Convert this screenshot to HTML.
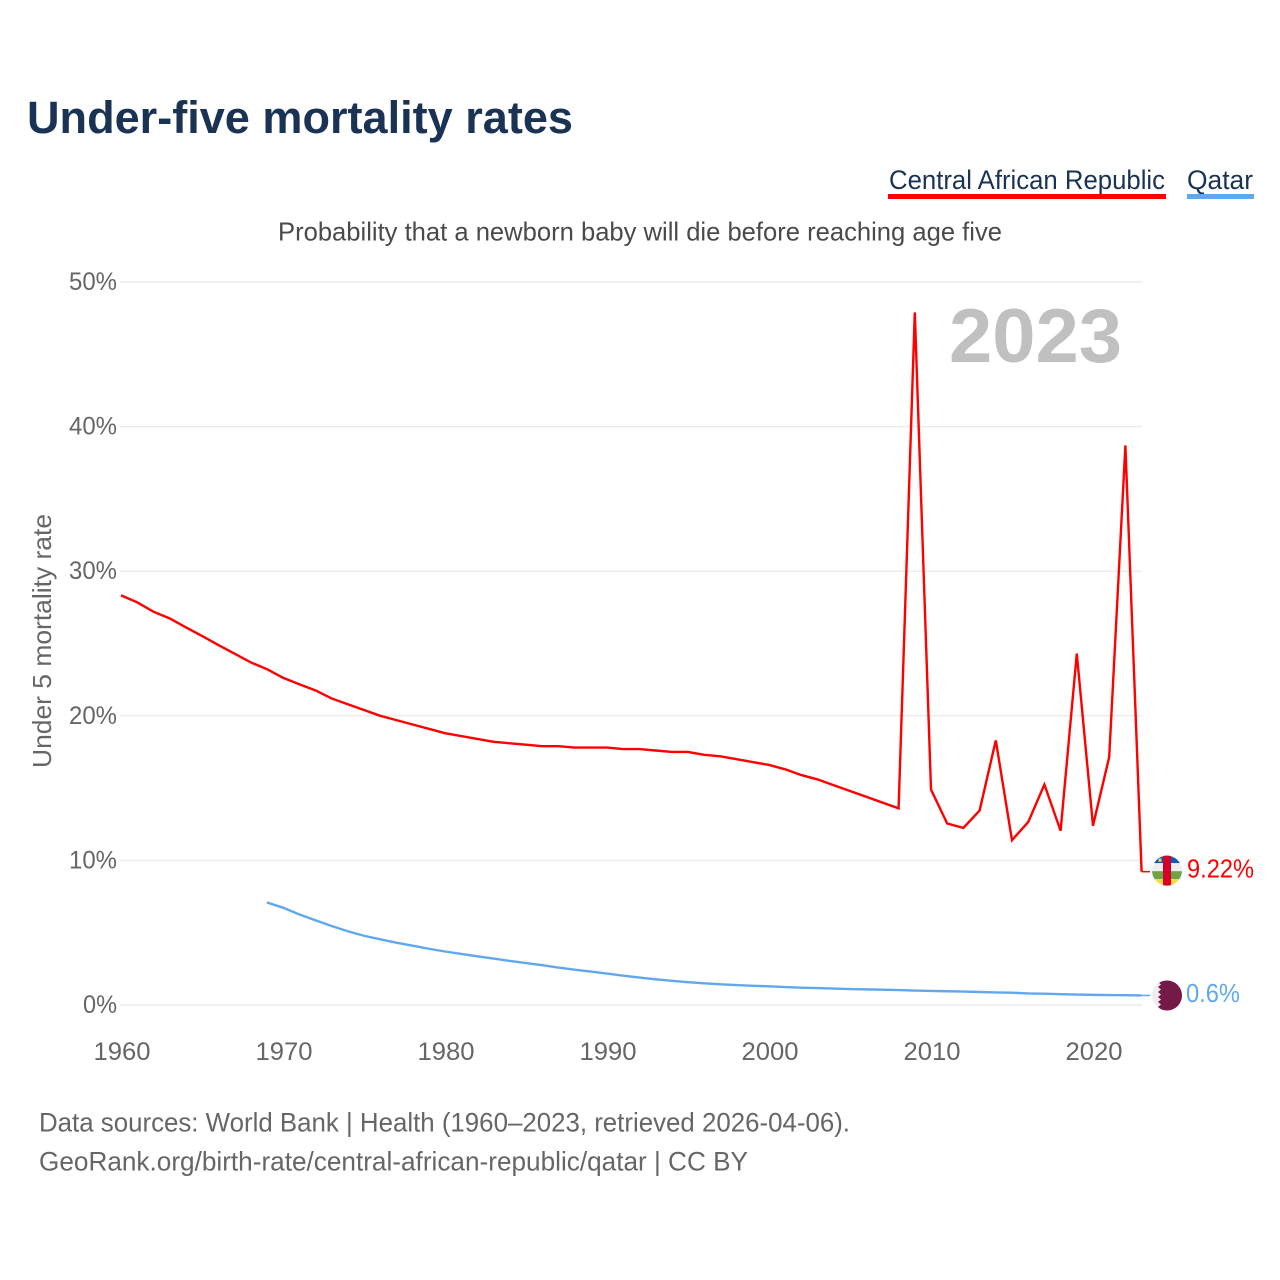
<!DOCTYPE html>
<html lang="en">
<head>
<meta charset="utf-8">
<title>Under-five mortality rates</title>
<style>
html,body{margin:0;padding:0;background:#fff;}
svg{display:block;font-family:"Liberation Sans",sans-serif;}
</style>
</head>
<body>
<svg id="chart" xmlns="http://www.w3.org/2000/svg" width="1280" height="1280" viewBox="0 0 1280 1280">
  <rect x="0" y="0" width="1280" height="1280" fill="#fff"/>
  <text x="27" y="133" font-size="45" font-weight="700" fill="#1a3354" textLength="546" lengthAdjust="spacingAndGlyphs">Under-five mortality rates</text>
  <g>
    <text x="889" y="189" font-size="27" fill="#1a3354" textLength="276" lengthAdjust="spacingAndGlyphs">Central African Republic</text>
    <rect x="888" y="194" width="278" height="5" fill="#ff0000"/>
  </g>
  <g>
    <text x="1187" y="189" font-size="27" fill="#1a3354" textLength="66" lengthAdjust="spacingAndGlyphs">Qatar</text>
    <rect x="1187" y="194" width="67" height="5" fill="#5fa8ee"/>
  </g>
  <text x="278" y="240.5" font-size="26" fill="#4a4a4a" textLength="724" lengthAdjust="spacingAndGlyphs">Probability that a newborn baby will die before reaching age five</text>
  <text transform="translate(51,641) rotate(-90)" text-anchor="middle" font-size="26" fill="#666" textLength="254" lengthAdjust="spacingAndGlyphs">Under 5 mortality rate</text>
  <g id="grid"></g>
  <g id="yticks"></g>
  <g id="xticks"></g>
  <text x="949" y="362" font-size="76" font-weight="700" fill="#c0c0c0" textLength="173" lengthAdjust="spacingAndGlyphs">2023</text>
  <g id="series"></g>
  <defs>
    <clipPath id="flag-clip"><circle cx="0" cy="0" r="15"/></clipPath>
  </defs>
  <g id="flag-car">
    <g clip-path="url(#flag-clip)">
      <rect x="-15" y="-16" width="30" height="8.5" fill="#0a5cb8"/>
      <rect x="-15" y="-7.5" width="30" height="8" fill="#eeeeee"/>
      <rect x="-15" y="0.5" width="30" height="8" fill="#6da544"/>
      <rect x="-15" y="8.5" width="30" height="8" fill="#ffda44"/>
      <rect x="-4" y="-16" width="8" height="32" fill="#d80027"/>
      <rect x="-8.5" y="-12" width="3" height="3" fill="#ffda44"/>
    </g>
  </g>
  <g id="flag-qatar">
    <g clip-path="url(#flag-clip)">
      <rect x="-15" y="-16" width="30" height="32" fill="#eeeeee"/>
      <path d="M15 -16 L-6 -16 L-9 -13.5 L-6 -11 L-9 -8.5 L-6 -6 L-9 -3.5 L-6 -1 L-9 1.5 L-6 4 L-9 6.5 L-6 9 L-9 11.5 L-6 14 L-8 16 L15 16 Z" fill="#751a46"/>
    </g>
  </g>
  <text id="label-car" x="1187" font-size="26" fill="#ff0000" textLength="67" lengthAdjust="spacingAndGlyphs"></text>
  <text id="label-qatar" x="1186" font-size="26" fill="#5fa8ee" textLength="54" lengthAdjust="spacingAndGlyphs"></text>
  <text x="39" y="1131.5" font-size="27" fill="#666" textLength="811" lengthAdjust="spacingAndGlyphs">Data sources: World Bank | Health (1960–2023, retrieved 2026-04-06).</text>
  <text x="39" y="1170.5" font-size="27" fill="#666" textLength="709" lengthAdjust="spacingAndGlyphs">GeoRank.org/birth-rate/central-african-republic/qatar | CC BY</text>
</svg>
<script>
const carStartYear = 1960;
const carValues = [28.33,27.85,27.2,26.74,26.12,25.52,24.9,24.3,23.7,23.23,22.63,22.18,21.76,21.2,20.8,20.4,20.0,19.7,19.4,19.1,18.8,18.6,18.4,18.2,18.1,18.0,17.9,17.9,17.8,17.8,17.8,17.7,17.7,17.6,17.5,17.5,17.3,17.2,17.0,16.8,16.6,16.3,15.9,15.6,15.2,14.8,14.4,14.0,13.6,47.9,14.9,12.55,12.25,13.45,18.3,11.4,12.65,15.25,12.05,24.3,12.4,17.15,38.7,9.22];
const qatarStartYear = 1969;
const qatarValues = [7.1,6.73,6.27,5.86,5.46,5.1,4.79,4.54,4.31,4.1,3.89,3.7,3.53,3.37,3.21,3.05,2.9,2.75,2.59,2.44,2.31,2.17,2.03,1.9,1.78,1.67,1.58,1.5,1.43,1.38,1.33,1.29,1.24,1.2,1.17,1.14,1.1,1.08,1.06,1.03,1.0,0.97,0.95,0.93,0.9,0.87,0.85,0.8,0.78,0.75,0.72,0.7,0.69,0.68,0.66];
const yTickValues = [0,10,20,30,40,50];
const xTickYears = [1960,1970,1980,1990,2000,2010,2020];
const carLabel = "9.22%";
const qatarLabel = "0.6%";

const NS = "http://www.w3.org/2000/svg";
function xScale(year){ return 121 + (year - 1960) * 16.2; }
function yScale(pct){ return 1005 - pct * 14.46; }

const gridGroup = document.getElementById("grid");
const yTickGroup = document.getElementById("yticks");
const xTickGroup = document.getElementById("xticks");
const seriesGroup = document.getElementById("series");

yTickValues.forEach(function(v){
  const line = document.createElementNS(NS, "line");
  
  
  line.setAttribute("x1", 120);
  line.setAttribute("x2", 1142);
  line.setAttribute("y1", yScale(v));
  line.setAttribute("y2", yScale(v));
  line.setAttribute("stroke", "#ececec");
  line.setAttribute("stroke-width", "1.5");
  gridGroup.appendChild(line);

  const label = document.createElementNS(NS, "text");
  
  
  label.setAttribute("x", 117);
  label.setAttribute("y", yScale(v) + 8);
  label.setAttribute("text-anchor", "end");
  label.setAttribute("font-size", "25");
  label.setAttribute("fill", "#666");
  label.setAttribute("textLength", v === 0 ? "34" : "48");
  label.setAttribute("lengthAdjust", "spacingAndGlyphs");
  label.textContent = v + "%";
  yTickGroup.appendChild(label);
});

xTickYears.forEach(function(year){
  const label = document.createElementNS(NS, "text");
  
  
  label.setAttribute("x", xScale(year) + 1);
  label.setAttribute("y", 1060);
  label.setAttribute("text-anchor", "middle");
  label.setAttribute("font-size", "25");
  label.setAttribute("fill", "#666");
  label.setAttribute("textLength", "57");
  label.setAttribute("lengthAdjust", "spacingAndGlyphs");
  label.textContent = String(year);
  xTickGroup.appendChild(label);
});

function pointsFor(startYear, values){
  return values.map(function(v, i){
    return xScale(startYear + i).toFixed(2) + "," + yScale(v).toFixed(2);
  }).join(" ");
}

const qatarConnector = document.createElementNS(NS, "line");


qatarConnector.setAttribute("x1", xScale(qatarStartYear + qatarValues.length - 1));
qatarConnector.setAttribute("x2", 1150);
qatarConnector.setAttribute("y1", yScale(qatarValues[qatarValues.length - 1]));
qatarConnector.setAttribute("y2", yScale(qatarValues[qatarValues.length - 1]));
qatarConnector.setAttribute("stroke", "#5fa8ee");
qatarConnector.setAttribute("stroke-width", "1.5");
seriesGroup.appendChild(qatarConnector);

const carConnector = document.createElementNS(NS, "line");


carConnector.setAttribute("x1", xScale(carStartYear + carValues.length - 1));
carConnector.setAttribute("x2", 1150);
carConnector.setAttribute("y1", yScale(carValues[carValues.length - 1]));
carConnector.setAttribute("y2", yScale(carValues[carValues.length - 1]));
carConnector.setAttribute("stroke", "#ff0000");
carConnector.setAttribute("stroke-width", "1.5");
seriesGroup.appendChild(carConnector);

const qatarLine = document.createElementNS(NS, "polyline");


qatarLine.setAttribute("points", pointsFor(qatarStartYear, qatarValues));
qatarLine.setAttribute("fill", "none");
qatarLine.setAttribute("stroke", "#5fa8ee");
qatarLine.setAttribute("stroke-width", "2.4");
seriesGroup.appendChild(qatarLine);

const carLine = document.createElementNS(NS, "polyline");


carLine.setAttribute("points", pointsFor(carStartYear, carValues));
carLine.setAttribute("fill", "none");
carLine.setAttribute("stroke", "#ff0000");
carLine.setAttribute("stroke-width", "2.4");
carLine.setAttribute("stroke-linejoin", "miter");
seriesGroup.appendChild(carLine);

const carEndY = yScale(carValues[carValues.length - 1]);
const qatarEndY = yScale(qatarValues[qatarValues.length - 1]);
document.getElementById("flag-car").setAttribute("transform", "translate(1167," + (carEndY - 1) + ")");
document.getElementById("flag-qatar").setAttribute("transform", "translate(1167," + qatarEndY + ")");
const carText = document.getElementById("label-car");
carText.setAttribute("y", carEndY + 6);
carText.textContent = carLabel;
const qatarText = document.getElementById("label-qatar");
qatarText.setAttribute("y", qatarEndY + 6.5);
qatarText.textContent = qatarLabel;
</script>
</body>
</html>
